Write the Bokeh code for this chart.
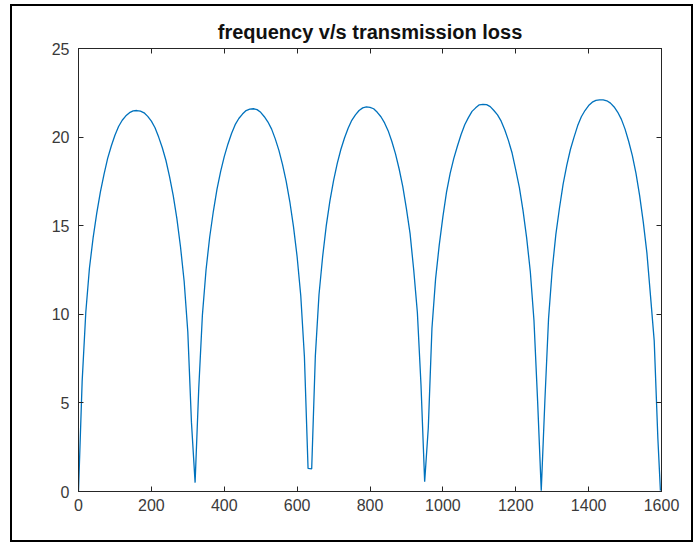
from bokeh.plotting import figure
from bokeh.models import Range1d, LinearAxis, FixedTicker
from bokeh.embed import file_html
from bokeh.resources import INLINE

# ---- data ----
chart_title = "frequency v/s transmission loss"
x_ticks = [0, 200, 400, 600, 800, 1000, 1200, 1400, 1600]
y_ticks = [0, 5, 10, 15, 20, 25]

# frequency grid (Hz), sampled every 10 Hz, last sample at the final notch
frequency = list(range(0, 1600, 10)) + [1597]

# transmission loss (dB) for each lobe
lobe1 = [0.0, 6.2, 10.1, 12.6, 14.3, 15.7, 16.9, 17.9, 18.8, 19.5, 20.1, 20.6, 20.95,
         21.2, 21.38, 21.48, 21.5, 21.47, 21.37, 21.17, 20.9, 20.53, 20.0, 19.4, 18.68,
         17.75, 16.7, 15.4, 13.8, 11.85, 9.0, 3.9, 0.5]
lobe2 = [5.8, 9.95, 12.5, 14.35, 15.8, 17.05, 18.05, 18.9, 19.6, 20.2, 20.7, 21.05,
         21.3, 21.5, 21.58, 21.6, 21.55, 21.4, 21.15, 20.85, 20.45, 19.9, 19.25, 18.45,
         17.5, 16.35, 14.95, 13.25, 11.05, 7.6, 1.3, 1.28]
lobe3 = [7.65, 11.1, 13.25, 15.0, 16.4, 17.55, 18.5, 19.3, 19.95, 20.5, 20.95, 21.25,
         21.5, 21.65, 21.7, 21.68, 21.6, 21.4, 21.15, 20.8, 20.35, 19.75, 19.05, 18.2,
         17.2, 15.95, 14.55, 12.5, 10.1, 6.0, 0.55]
lobe4 = [3.6, 9.2, 12.0, 13.9, 15.5, 16.9, 17.95, 18.8, 19.5, 20.15, 20.7, 21.1, 21.45,
         21.65, 21.82, 21.85, 21.83, 21.72, 21.5, 21.25, 20.9, 20.4, 19.8, 19.1, 18.15,
         17.15, 15.85, 14.3, 12.4, 9.65, 5.1, 0.05]
lobe5 = [5.15, 9.75, 12.5, 14.5, 16.0, 17.35, 18.4, 19.3, 20.0, 20.65, 21.15, 21.5,
         21.78, 21.97, 22.07, 22.1, 22.1, 22.05, 21.92, 21.7, 21.4, 21.0, 20.45, 19.75,
         18.95, 17.95, 16.7, 15.2, 13.45, 11.0, 8.5, 3.0, 0.05]
transmission_loss = lobe1 + lobe2 + lobe3 + lobe4 + lobe5

FONT = "Liberation Sans"
AXIS_COLOR = "#262626"
LABEL_COLOR = "#3a3a3a"

p = figure(width=679, height=534, output_backend="svg", toolbar_location=None,
           x_range=Range1d(0, 1600), y_range=Range1d(0, 25),
           min_border_left=66, min_border_right=30, min_border_top=42, min_border_bottom=49,
           background_fill_color="white", border_fill_color="white",
           margin=(6, 5, 7, 12))
# outer black frame around the whole figure (drawn just outside the figure box)
p.styles = {"outline": "2px solid black", "outline-offset": "0px"}

p.title.text = chart_title
p.title.align = "center"
p.title.text_font = FONT
p.title.text_font_size = "20px"
p.title.text_font_style = "bold"
p.title.text_color = "#111111"
p.title.standoff = 12

p.xgrid.visible = False
p.ygrid.visible = False
p.outline_line_color = AXIS_COLOR
p.outline_line_width = 1

p.line(frequency, transmission_loss, line_color="#0072BD", line_width=1.3)

def style_axis(ax, ticks, labels=True):
    ax.ticker = FixedTicker(ticks=ticks)
    ax.minor_tick_line_color = None
    ax.major_tick_in = 5
    ax.major_tick_out = 0
    ax.major_tick_line_color = AXIS_COLOR
    ax.axis_line_color = AXIS_COLOR
    ax.axis_line_width = 1
    if labels:
        ax.major_label_text_font = FONT
        ax.major_label_text_font_size = "16px"
        ax.major_label_text_color = LABEL_COLOR
        ax.major_label_standoff = 7
    else:
        ax.major_label_text_font_size = "1px"
        ax.major_label_text_color = None
        ax.major_label_standoff = 0

style_axis(p.xaxis[0], x_ticks)
style_axis(p.yaxis[0], y_ticks)
p.yaxis[0].major_label_standoff = 9

top_axis = LinearAxis()
right_axis = LinearAxis()
style_axis(top_axis, x_ticks, labels=False)
style_axis(right_axis, y_ticks, labels=False)
p.add_layout(top_axis, "above")
p.add_layout(right_axis, "right")

open("out.html", "w").write(file_html(p, INLINE))
